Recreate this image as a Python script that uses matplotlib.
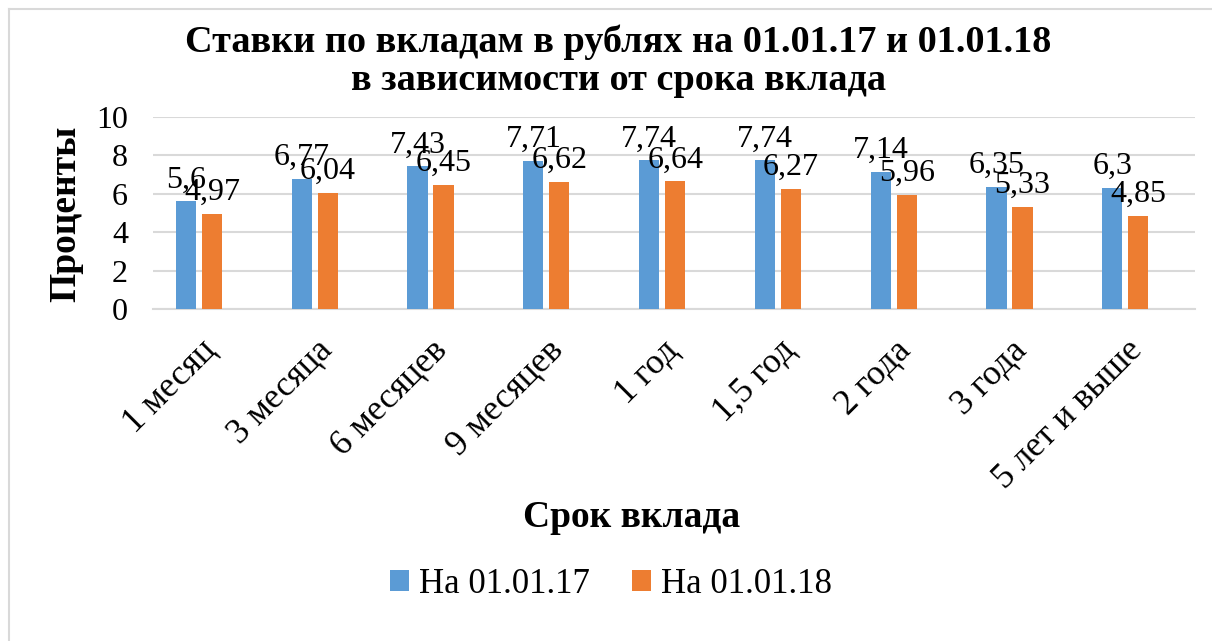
import matplotlib.pyplot as plt
import matplotlib.transforms as mtransforms
import numpy as np
from matplotlib.lines import Line2D

categories = ['1 месяц', '3 месяца', '6 месяцев', '9 месяцев', '1 год',
              '1,5 год', '2 года', '3 года', '5 лет и выше']
rates_17 = [5.6, 6.77, 7.43, 7.71, 7.74, 7.74, 7.14, 6.35, 6.3]
rates_18 = [4.97, 6.04, 6.45, 6.62, 6.64, 6.27, 5.96, 5.33, 4.85]
series_names = ['На 01.01.17', 'На 01.01.18']

plt.rcParams['font.family'] = ['Liberation Serif', 'DejaVu Serif']

fig = plt.figure(figsize=(12.12, 6.41), dpi=100)
ax = fig.add_axes([0.1262, 0.518, 0.8598, 0.2995])

x = np.arange(len(categories))
w = 0.175
b1 = ax.bar(x - 0.215, rates_17, w, color='#5B9BD5', label=series_names[0], zorder=3)
b2 = ax.bar(x + 0.01, rates_18, w, color='#ED7D31', label=series_names[1], zorder=3)

def fmt(v):
    return ('%g' % v).replace('.', ',')

for bars, vals in ((b1, rates_17), (b2, rates_18)):
    for rect, v in zip(bars, vals):
        ax.annotate(fmt(v), (rect.get_x() + rect.get_width() / 2, v),
                    xytext=(0, 5), textcoords='offset points',
                    ha='center', va='bottom', fontsize=23)

ax.set_xlim(-0.5, len(categories) - 0.5)
ax.set_ylim(0, 10)
ax.set_yticks(range(0, 11, 2))
ax.yaxis.grid(True, color='#D9D9D9', linewidth=1.5, zorder=0)
ax.tick_params(axis='y', length=0, pad=18, labelsize=23)
ax.tick_params(axis='x', length=0, pad=18, labelsize=25.5)
for s in ('top', 'right', 'left'):
    ax.spines[s].set_visible(False)
ax.spines['bottom'].set_color('#D9D9D9')
ax.spines['bottom'].set_linewidth(1.5)

ax.set_xticks(x)
ax.set_xticklabels(categories, rotation=45, ha='right', rotation_mode='anchor')
shift = mtransforms.ScaledTranslation(-8 / 72, 0, fig.dpi_scale_trans)
for lbl in ax.get_xticklabels():
    lbl.set_transform(lbl.get_transform() + shift)

fig.text(0.51, 0.962, 'Ставки по вкладам в рублях на 01.01.17 и 01.01.18\nв зависимости от срока вклада',
         ha='center', va='top', fontsize=27.5, fontweight='bold', linespacing=1.12)
fig.text(0.0545, 0.666, 'Проценты', rotation=90, ha='center', va='center',
         fontsize=27, fontweight='bold')
fig.text(0.521, 0.192, 'Срок вклада', ha='center', va='center',
         fontsize=27, fontweight='bold')

fig.legend(handles=[b1, b2], labels=series_names, loc='center',
           bbox_to_anchor=(0.504, 0.088), ncol=2, frameon=False, fontsize=25,
           handlelength=0.55, handleheight=0.55, handletextpad=0.3, columnspacing=1.2)

# chart area border (only the top and left edges are inside the picture)
fig.add_artist(Line2D([0.0074, 0.0074], [0.0, 0.986], transform=fig.transFigure,
                      color='#D9D9D9', linewidth=1.5))
fig.add_artist(Line2D([0.0074, 1.0], [0.986, 0.986], transform=fig.transFigure,
                      color='#D9D9D9', linewidth=1.5))

fig.savefig('out.png', dpi=100)
